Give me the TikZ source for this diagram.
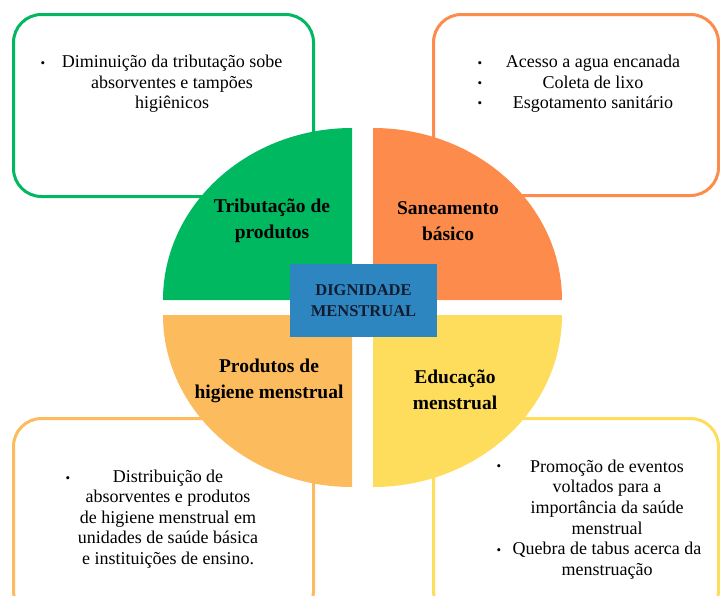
\documentclass[tikz,border=0pt]{standalone}
\usepackage{fontspec}
\setmainfont{Liberation Serif}
\definecolor{qgreen}{RGB}{0,184,96}
\definecolor{qorange}{RGB}{253,140,76}
\definecolor{qlight}{RGB}{252,187,92}
\definecolor{qyellow}{RGB}{255,221,92}
\definecolor{qblue}{RGB}{46,134,193}
\definecolor{qnavy}{RGB}{18,28,48}
\begin{document}
\begin{tikzpicture}[x=1pt,y=-1pt,
  cbox/.style={draw, line width=3pt, rounded corners=28pt, fill=white, anchor=north west, inner sep=0pt},
  qlabel/.style={align=center, font=\fontsize{19.5}{26}\selectfont\bfseries, text=black},
  btext/.style={align=center, font=\fontsize{18}{20.6}\selectfont, text=black},
  bullet/.style={font=\fontsize{13}{15}\selectfont, text=black}]
\useasboundingbox (0,0) rectangle (720,595);
\clip (0,0) rectangle (720,595);
% corner boxes
\node[cbox, draw=qgreen, minimum width=300pt, minimum height=182pt] (bTL) at (12,13) {};
\node[cbox, draw=qorange, minimum width=285pt, minimum height=181pt] (bTR) at (432,13) {};
\node[cbox, draw=qlight, minimum width=300pt, minimum height=200pt] (bBL) at (12,417) {};
\node[cbox, draw=qyellow, minimum width=285pt, minimum height=200pt] (bBR) at (432,417) {};
% quadrants
\fill[qgreen] (352,300) -- (163,300) arc[start angle=180, end angle=270, x radius=189, y radius=172] -- cycle;
\fill[qorange] (373,300) -- (373,128) arc[start angle=270, end angle=360, x radius=189, y radius=172] -- cycle;
\fill[qlight] (352,315) -- (163,315) arc[start angle=180, end angle=90, x radius=189, y radius=172] -- cycle;
\fill[qyellow] (373,315) -- (562,315) arc[start angle=0, end angle=90, x radius=189, y radius=172] -- cycle;
% centre
\node[fill=qblue, minimum width=147pt, minimum height=73pt, inner sep=0pt, align=center,
      font=\fontsize{16.5}{21}\selectfont\bfseries, text=qnavy] (center) at (363.5,300.5) {DIGNIDADE\\MENSTRUAL};
% quadrant labels
\node[qlabel] (lTL) at (272,221) {Tributação de\\produtos};
\node[qlabel] (lTR) at (448,221) {Saneamento\\básico};
\node[qlabel] (lBL) at (269,381) {Produtos de\\higiene menstrual};
\node[qlabel] (lBR) at (455,390) {Educação\\menstrual};
% box texts
\node[bullet] (dTL) at (43,65) {•};
\node[btext] (tTL) at (172,84) {Diminuição da tributação sobe\\absorventes e tampões\\higiênicos};
\node[bullet] (dTR1) at (480,65) {•};
\node[bullet] (dTR2) at (480,85) {•};
\node[bullet] (dTR3) at (480,105) {•};
\node[btext] (tTR) at (593,84) {Acesso a agua encanada\\Coleta de lixo\\Esgotamento sanitário};
\node[bullet] (dBL) at (68,480) {•};
\node[btext] (tBL) at (168,519) {Distribuição de\\absorventes e produtos\\de higiene menstrual em\\unidades de saúde básica\\e instituições de ensino.};
\node[bullet] (dBR1) at (499,468) {•};
\node[bullet] (dBR2) at (499,552) {•};
\node[btext] (tBR) at (607,519.5) {Promoção de eventos\\voltados para a\\importância da saúde\\menstrual\\Quebra de tabus acerca da\\menstruação};
\end{tikzpicture}
\end{document}
